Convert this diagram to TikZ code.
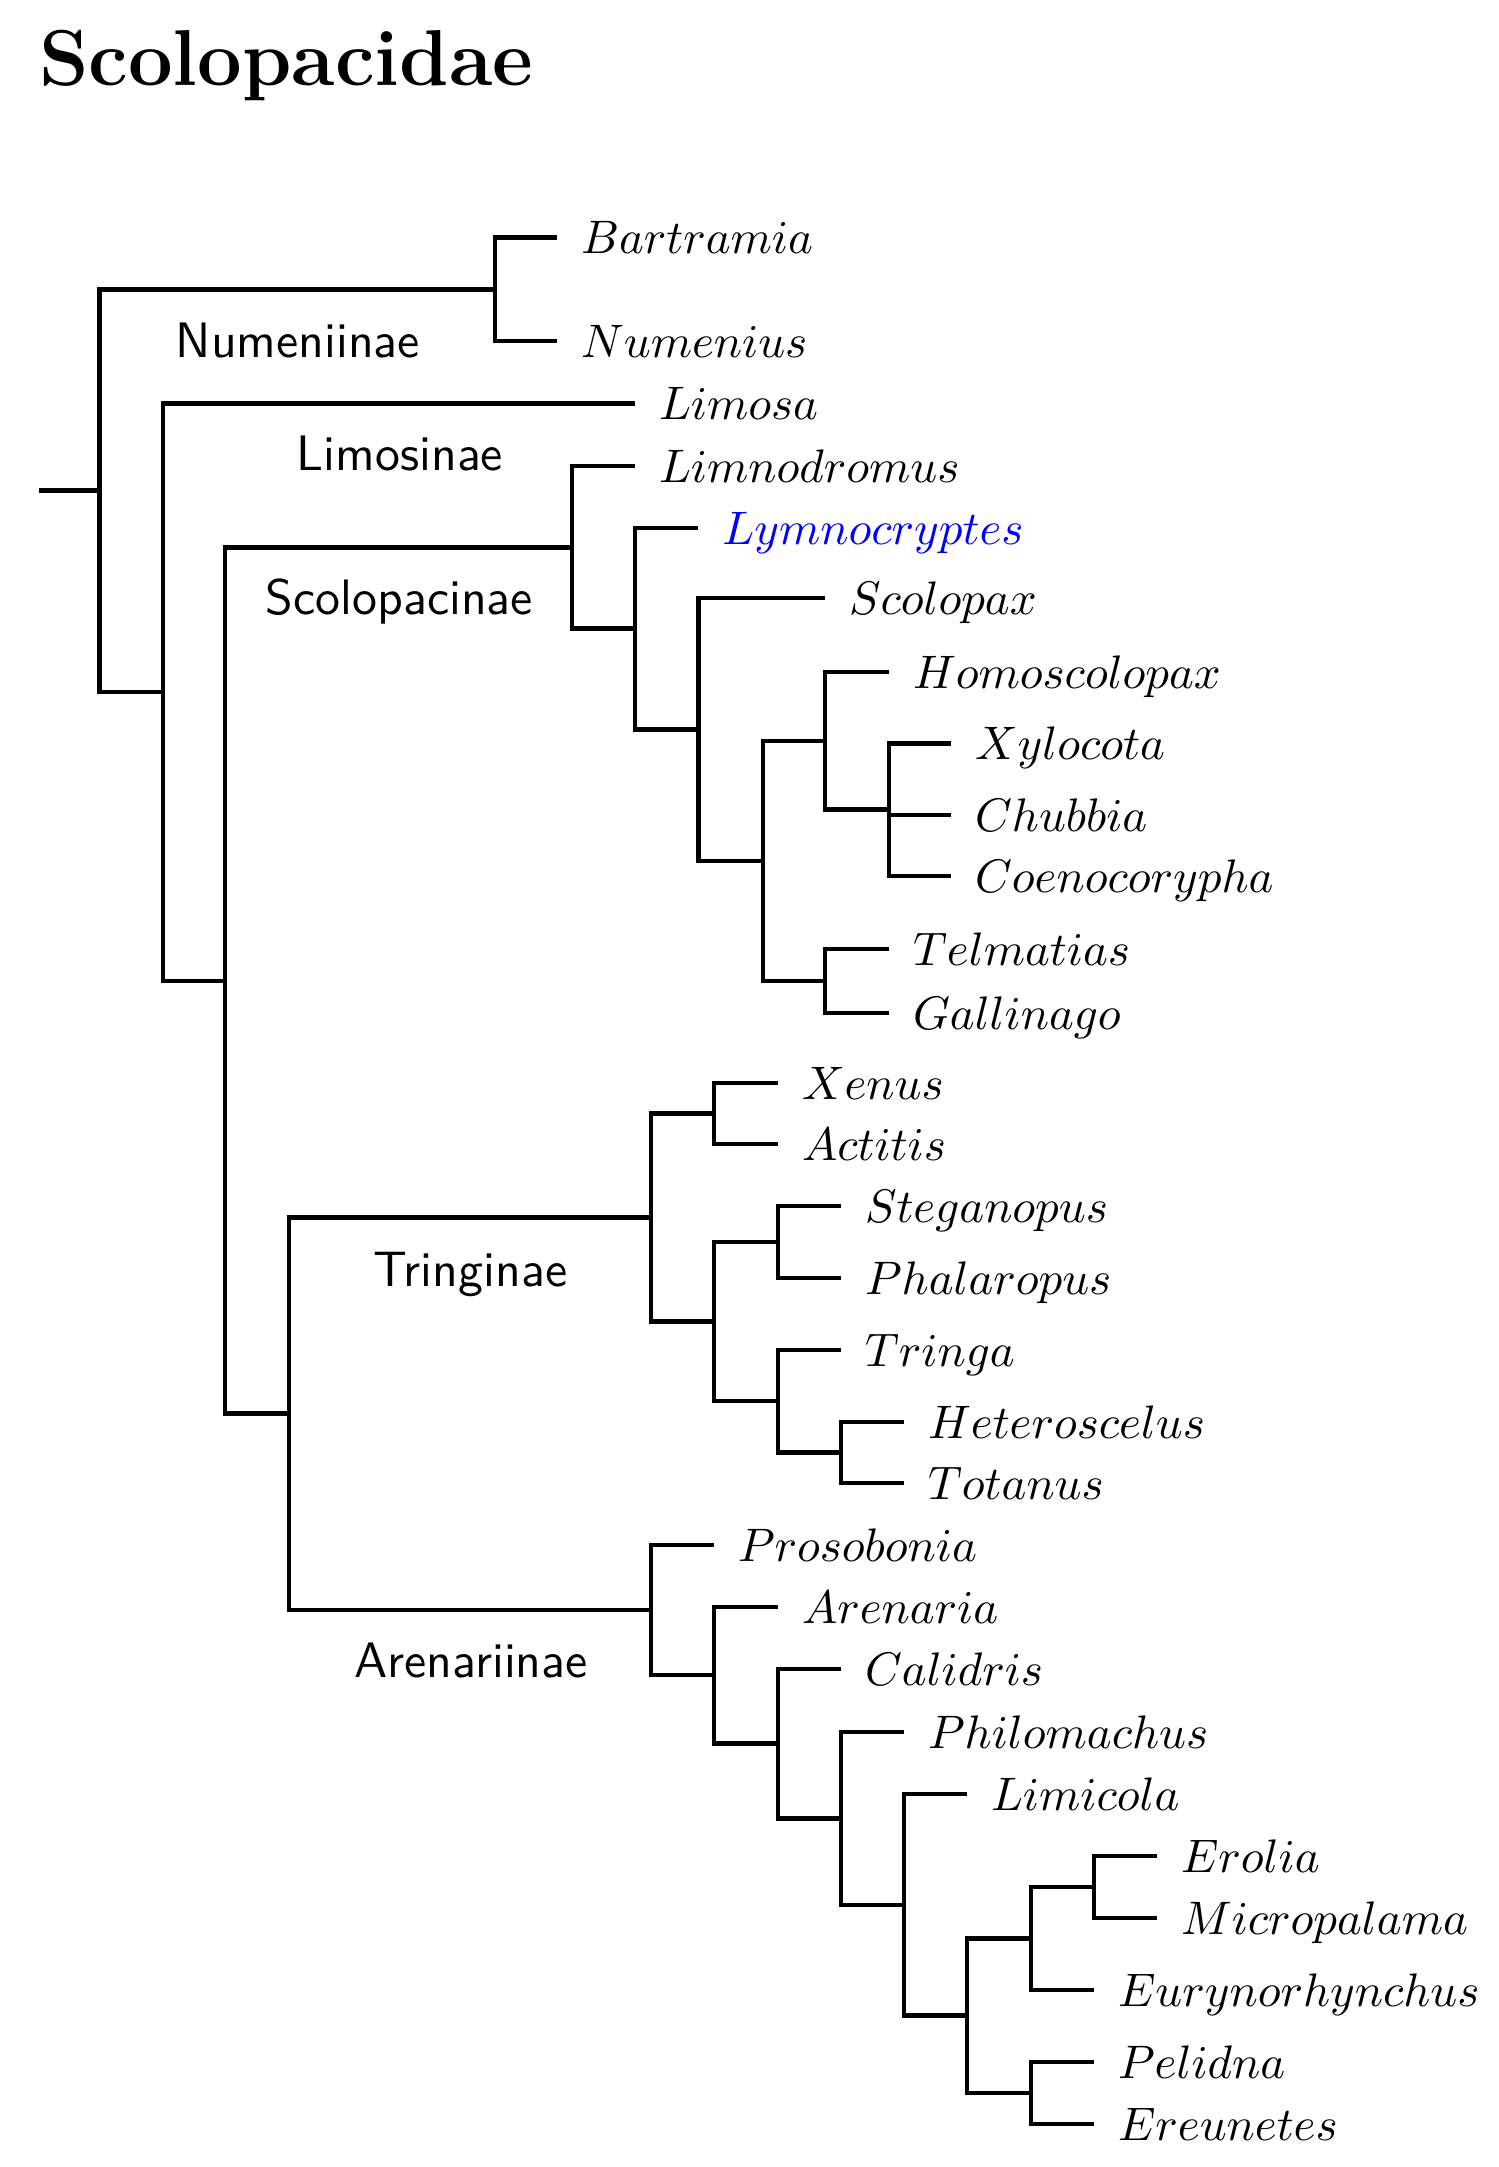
\RequirePackage{fix-cm}
\documentclass[tikz,border=0pt]{standalone}
\usepackage{fontspec}
\usetikzlibrary{positioning}
\DeclareFontShape{OML}{cmm}{m}{it}{<->cmmi10}{}
\newfontfamily\cladesans{lmsans10-regular.otf}
\definecolor{ink}{HTML}{000000}
\definecolor{pick}{HTML}{0000FF}
\newcommand{\taxonfont}{\fontsize{23.6}{26}\selectfont}
\newcommand{\cladefont}{\fontsize{25}{28}\selectfont\cladesans}
\newcommand{\headfont}{\fontsize{39.8}{44}\selectfont\bfseries}
\tikzset{
  every node/.style={text=ink,inner sep=0pt,outer sep=0pt},
  branch/.style={draw=ink,line width=2.3bp},
  taxon/.style={font=\taxonfont,text height=16bp,text depth=0pt},
  clade/.style={font=\cladefont,text height=17.4bp,text depth=0pt},
  head/.style={font=\headfont,anchor=base west}
}
\begin{document}
\begin{tikzpicture}[x=.5bp,y=-.5bp]

\path[use as bounding box] (0,0) rectangle (1498,2167);
\node[head] (title) at (39,86) {Scolopacidae};

% junctions, each one halfway between its two outer children
\foreach \name/\x/\y in {root/39/490.7,n0/99.5/490.7,numen/495/289.4,n1/163/692,n2/225/981,
  scolop/572/547.4,lymno/635/628.75,scolo/698.4/729.5,snipe/763/861,homo/825/741,
  xylo/889/809.75,telm/825/981,n3/289/1413.75,tring/651/1217.5,xen/714/1113.5,
  stri/714/1321.5,steg/778/1242,tri/778/1401,tot/841/1452.5,arena/651/1610,are/714/1675,
  cal/778/1743.75,phi/841/1818.5,lim/904/1905,cal2/967/2015.75,eury/1031/1938.5,
  ero/1094/1887,pel/1031/2093}
 \coordinate (\name) at (\x,\y);

% leaf tips
\foreach \name/\x/\y in {bartramia/557/237.7,numenius/557/341,limosa/635/403.5,
  limnodromus/635/466,lymnocryptes/698.4/528,scolopax/825/598,homoscolopax/889/672,
  xylocota/951/743.5,chubbia/951/815,coenocorypha/951/876,telmatias/889/949,
  gallinago/889/1013,xenus/778/1083,actitis/778/1144,steganopus/841/1206,
  phalaropus/841/1278,tringa/841/1350,heteroscelus/904/1422,totanus/904/1483,
  prosobonia/714/1545,arenaria/778/1607,calidris/841/1669,philomachus/904/1732,
  limicola/967/1794,erolia/1157/1856,micropalama/1157/1918,eurynorhynchus/1094/1990,
  pelidna/1094/2062,ereunetes/1094/2124}
 \coordinate (\name) at (\x,\y);

\foreach \a/\b in {root/n0,n0/numen,numen/bartramia,numen/numenius,n0/n1,n1/limosa,n1/n2,
  n2/scolop,scolop/limnodromus,scolop/lymno,lymno/lymnocryptes,lymno/scolo,scolo/scolopax,
  scolo/snipe,snipe/homo,homo/homoscolopax,homo/xylo,xylo/xylocota,xylo/chubbia,
  xylo/coenocorypha,snipe/telm,telm/telmatias,telm/gallinago,
  n2/n3,n3/tring,tring/xen,xen/xenus,xen/actitis,tring/stri,stri/steg,steg/steganopus,
  steg/phalaropus,stri/tri,tri/tringa,tri/tot,tot/heteroscelus,tot/totanus,
  n3/arena,arena/prosobonia,arena/are,are/arenaria,are/cal,cal/calidris,cal/phi,
  phi/philomachus,phi/lim,lim/limicola,lim/cal2,cal2/eury,eury/ero,ero/erolia,
  ero/micropalama,eury/eurynorhynchus,cal2/pel,pel/pelidna,pel/ereunetes}
 \draw[branch] (\a) |- (\b);

\foreach \name/\txt in {bartramia/Bartramia,numenius/Numenius,limosa/Limosa,
  limnodromus/Limnodromus,scolopax/Scolopax,homoscolopax/Homoscolopax,xylocota/Xylocota,
  chubbia/Chubbia,coenocorypha/Coenocorypha,telmatias/Telmatias,gallinago/Gallinago,
  xenus/Xenus,actitis/Actitis,steganopus/Steganopus,phalaropus/Phalaropus,tringa/Tringa,
  heteroscelus/Heteroscelus,totanus/Totanus,prosobonia/Prosobonia,arenaria/Arenaria,
  calidris/Calidris,philomachus/Philomachus,limicola/Limicola,erolia/Erolia,
  micropalama/Micropalama,eurynorhynchus/Eurynorhynchus,pelidna/Pelidna,ereunetes/Ereunetes}
 \node[taxon,right=12bp of \name] (t\name) {$\txt$};
\node[taxon,text=pick,right=12bp of lymnocryptes] (tlymnocryptes) {$Lymnocryptes$};

\node[clade] (numeniinae) at (298,339.7) {Numeniinae};
\node[clade] (limosinae) at (400,453) {Limosinae};
\node[clade] (scolopacinae) at (399.4,597) {Scolopacinae};
\node[clade] (tringinae) at (470.5,1268.6) {Tringinae};
\node[clade] (arenariinae) at (471,1660) {Arenariinae};
\end{tikzpicture}
\end{document}
